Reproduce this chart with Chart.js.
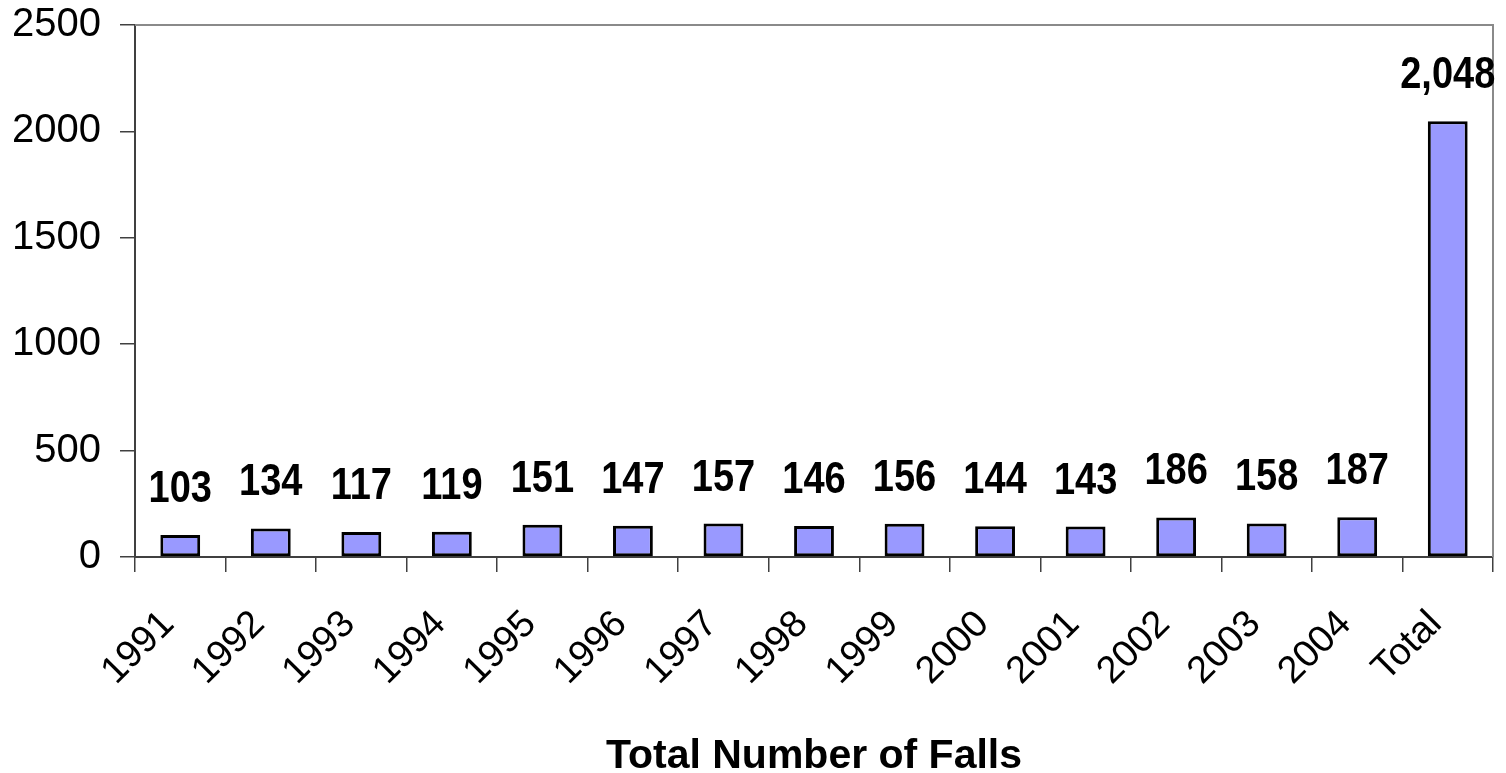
<!DOCTYPE html>
<html>
<head>
<meta charset="utf-8">
<script src="https://cdn.jsdelivr.net/npm/chart.js@4/dist/chart.umd.min.js"></script>
<style>
  html, body { margin: 0; padding: 0; background: #fff; }
  #wrap { width: 1506px; height: 773px; }
</style>
</head>
<body>
<div id="wrap"><canvas id="falls"></canvas></div>
<script>
// Datos
const years = ['1991', '1992', '1993', '1994', '1995', '1996', '1997', '1998',
               '1999', '2000', '2001', '2002', '2003', '2004', 'Total'];
const falls = [103, 134, 117, 119, 151, 147, 157, 146, 156, 144, 143, 186, 158, 187, 2048];
const yTicks = [0, 500, 1000, 1500, 2000, 2500];
const xTitle = 'Total Number of Falls';

const FONT = '"Liberation Sans", Arial, Helvetica, sans-serif';
const AXIS = '#404040';
const FRAME = '#8a8a8a';

// etiquetas de valor encima de cada barra (algo estiradas en vertical, como el original)
const barLabels = {
  id: 'barLabels',
  afterDatasetsDraw(chart) {
    const { ctx } = chart;
    const meta = chart.getDatasetMeta(0);
    const stretch = 1.18;
    ctx.save();
    ctx.font = `bold 38px ${FONT}`;
    ctx.fillStyle = '#000';
    ctx.textAlign = 'center';
    ctx.textBaseline = 'alphabetic';
    meta.data.forEach((bar, i) => {
      ctx.save();
      ctx.translate(bar.x, bar.y - 33);
      ctx.scale(1, stretch);
      ctx.fillText(falls[i].toLocaleString('en-US'), 0, 0);
      ctx.restore();
    });
    ctx.restore();
  },
};

// borde gris arriba y a la derecha del área de trazado
const plotFrame = {
  id: 'plotFrame',
  beforeDatasetsDraw(chart) {
    const { ctx, chartArea: a } = chart;
    ctx.save();
    ctx.strokeStyle = FRAME;
    ctx.lineWidth = 2;
    ctx.beginPath();
    ctx.moveTo(a.left, a.top);
    ctx.lineTo(a.right, a.top);
    ctx.lineTo(a.right, a.bottom);
    ctx.stroke();
    ctx.restore();
  },
};

new Chart(document.getElementById('falls'), {
  type: 'bar',
  data: {
    labels: years,
    datasets: [{
      data: falls,
      backgroundColor: '#9999ff',
      borderColor: '#000',
      borderWidth: 3,
      borderSkipped: false,
      barPercentage: 0.44,
      categoryPercentage: 1,
    }],
  },
  options: {
    responsive: true,
    maintainAspectRatio: false,
    animation: false,
    layout: { padding: { top: 25, right: 13, left: 0, bottom: 0 } },
    plugins: {
      legend: { display: false },
      tooltip: { enabled: false },
    },
    scales: {
      x: {
        grid: {
          offset: true,
          drawOnChartArea: false,
          drawTicks: true,
          tickLength: 15,
          color: AXIS,
          lineWidth: 1.5,
        },
        border: { color: AXIS, width: 2 },
        ticks: {
          color: '#000',
          font: { family: FONT, size: 38 },
          minRotation: 45,
          maxRotation: 45,
          padding: 30,
          labelOffset: -12,
          autoSkip: false,
        },
        title: {
          display: true,
          text: xTitle,
          color: '#000',
          font: { family: FONT, size: 41, weight: 'bold' },
          padding: { top: 0, bottom: -8 },
        },
        afterFit(scale) {
          scale.height = 216;
          scale.paddingRight = 0;
        },
      },
      y: {
        min: 0,
        max: 2500,
        afterBuildTicks(scale) { scale.ticks = yTicks.map(v => ({ value: v })); },
        grid: {
          drawOnChartArea: false,
          drawTicks: true,
          tickLength: 15,
          color: AXIS,
          lineWidth: 1.5,
        },
        border: { color: AXIS, width: 2 },
        ticks: {
          color: '#000',
          font: { family: FONT, size: 40 },
          padding: 19,
          callback: v => String(v),
        },
        afterFit(scale) {
          scale.width = 135;
          scale.paddingTop = 0;
          scale.paddingBottom = 0;
        },
      },
    },
  },
  plugins: [barLabels, plotFrame],
});
</script>
</body>
</html>
